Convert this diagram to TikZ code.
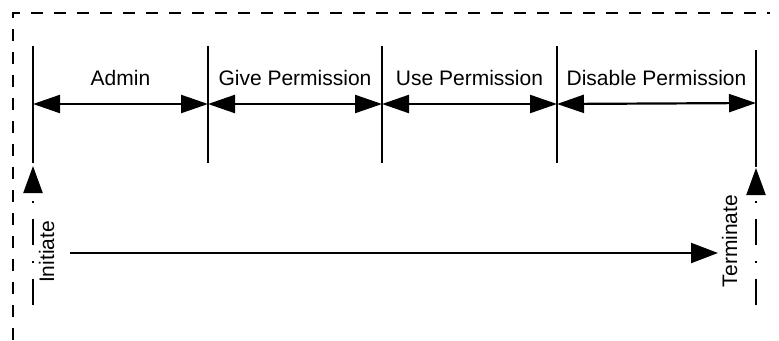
\documentclass[tikz,border=0pt]{standalone}
\usepackage{fontspec}
\setmainfont{Liberation Sans}
\usetikzlibrary{arrows.meta}

\tikzset{
  frame/.style={line width=2pt, dash pattern=on 12pt off 11pt},
  divider/.style={line width=2.2pt},
  span/.style={line width=2.2pt, {Triangle[length=27pt,width=18pt]}-{Triangle[length=27pt,width=18pt]}},
  flow/.style={line width=2.2pt, -{Triangle[length=27pt,width=20pt]}},
  marker/.style={line width=2.2pt, dash pattern=on 26pt off 16pt on 2pt off 16pt,
                 -{Triangle[length=27pt,width=19pt]}},
  phase/.style={inner sep=0pt, font=\fontsize{21}{25}\selectfont},
  event/.style={inner sep=0pt, rotate=90, font=\fontsize{21}{25}\selectfont}
}

\begin{document}
\begin{tikzpicture}[x=1pt, y=-1pt]
  \useasboundingbox (0,0) rectangle (779,340);

  % open dashed frame (left and top edges)
  \coordinate (fb) at (13,340);
  \coordinate (fc) at (13,13);
  \coordinate (fr) at (770,13);
  \draw[frame] (fb) -- (fc) -- (fr);

  % phase dividers
  \coordinate (t1) at (33,46);   \coordinate (b1) at (33,163);
  \coordinate (t2) at (208,46);  \coordinate (b2) at (208,163);
  \coordinate (t3) at (382,46);  \coordinate (b3) at (382,163);
  \coordinate (t4) at (557,46);  \coordinate (b4) at (557,163);
  \coordinate (t5) at (756,50);  \coordinate (b5) at (756,167);
  \foreach \i in {1,...,5} \draw[divider] (t\i) -- (b\i);

  % span arrows between dividers
  \coordinate (m1) at (33,104);
  \coordinate (m2) at (208,104);
  \coordinate (m3) at (382,104);
  \coordinate (m4) at (557,104);
  \coordinate (m5) at (756,103);
  \draw[span] (m1) -- (m2);
  \draw[span] (m2) -- (m3);
  \draw[span] (m3) -- (m4);
  \draw[span] (m4) -- (m5);

  % phase labels
  \node[phase] (admin)   at (120.5,78) {Admin};
  \node[phase] (give)    at (295,78)   {Give Permission};
  \node[phase] (use)     at (469.5,78) {Use Permission};
  \node[phase] (disable) at (656.5,78) {Disable Permission};

  % initiate and terminate markers
  \coordinate (il) at (33,305);  \coordinate (it) at (33,166);
  \coordinate (tl) at (756,305); \coordinate (tt) at (756,168);
  \draw[marker] (il) -- (it);
  \draw[marker] (tl) -- (tt);

  \node[event] (init) at (46.5,252) {Initiate};
  \node[event] (term) at (729.5,241) {Terminate};

  % overall flow
  \coordinate (fs) at (70,253);
  \coordinate (fe) at (718,253);
  \draw[flow] (fs) -- (fe);
\end{tikzpicture}
\end{document}
